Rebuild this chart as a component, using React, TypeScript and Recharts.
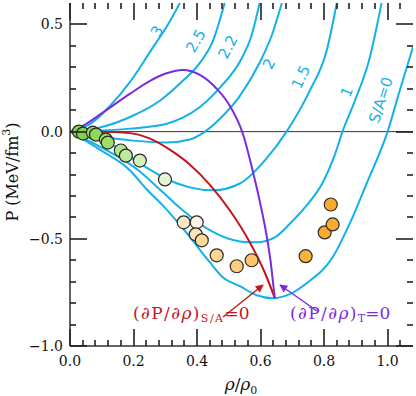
import { ComposedChart, Line, Scatter, XAxis, YAxis, ReferenceLine, Cell } from 'recharts';

// axes
const rhoMajor = [0, 0.2, 0.4, 0.6, 0.8, 1.0];
const rhoTicks = [0, 0.04, 0.08, 0.12, 0.16, 0.2, 0.24, 0.28, 0.32, 0.36, 0.4, 0.44, 0.48, 0.52, 0.56, 0.6,
  0.64, 0.68, 0.72, 0.76, 0.8, 0.84, 0.88, 0.92, 0.96, 1.0, 1.04];
const pMajor = [-1, -0.5, 0, 0.5];
const pTicks = [-1, -0.9, -0.8, -0.7, -0.6, -0.5, -0.4, -0.3, -0.2, -0.1, 0, 0.1, 0.2, 0.3, 0.4, 0.5];

const X_DOMAIN = [0, 1.08];
const Y_DOMAIN = [-1, 0.6];

// isentropes, [rho/rho0, P]
const sA3 = [[0, 0], [0.031, 0.014], [0.063, 0.035], [0.126, 0.12], [0.189, 0.232], [0.252, 0.372], [0.315, 0.516], [0.346, 0.6]];
const sA25 = [[0, 0], [0.094, 0.019], [0.198, 0.074], [0.283, 0.144], [0.355, 0.237], [0.409, 0.321], [0.45, 0.423], [0.487, 0.6]];
const sA22 = [[0, 0], [0.189, 0.014], [0.305, 0.037], [0.355, 0.065], [0.409, 0.115], [0.472, 0.205], [0.54, 0.34],
  [0.57, 0.44], [0.597, 0.6]];
const sA2 = [[0, 0], [0.094, -0.023], [0.198, -0.042], [0.305, -0.051], [0.377, -0.037], [0.425, 0], [0.472, 0.06],
  [0.535, 0.167], [0.597, 0.321], [0.638, 0.46], [0.667, 0.6]];
const sA15 = [[0, 0], [0.126, -0.056], [0.23, -0.158], [0.314, -0.228], [0.377, -0.26], [0.45, -0.274], [0.535, -0.242],
  [0.613, -0.135], [0.682, 0], [0.755, 0.191], [0.808, 0.377], [0.84, 0.6]];
const sA1 = [[0, 0], [0.094, -0.07], [0.22, -0.186], [0.283, -0.27], [0.355, -0.367], [0.44, -0.46], [0.535, -0.512],
  [0.588, -0.516], [0.645, -0.493], [0.692, -0.43], [0.745, -0.344], [0.796, -0.237], [0.833, -0.112], [0.858, 0],
  [0.896, 0.14], [0.943, 0.34], [0.981, 0.6]];
const sA0 = [[0, 0], [0.094, -0.084], [0.189, -0.181], [0.242, -0.27], [0.292, -0.344], [0.368, -0.474], [0.44, -0.609],
  [0.481, -0.679], [0.535, -0.721], [0.588, -0.763], [0.638, -0.777], [0.692, -0.758], [0.745, -0.707], [0.827, -0.586],
  [0.881, -0.428], [0.934, -0.242], [1.0, 0], [1.038, 0.191], [1.08, 0.395]];

// spinodals
const spinT = [[0, 0], [0.047, 0.033], [0.094, 0.079], [0.189, 0.177], [0.252, 0.237], [0.299, 0.27], [0.355, 0.288],
  [0.409, 0.265], [0.462, 0.2], [0.503, 0.121], [0.544, -0.009], [0.575, -0.181], [0.597, -0.321], [0.619, -0.484],
  [0.632, -0.609], [0.642, -0.74], [0.645, -0.777]];
const spinS = [[0, 0], [0.094, 0], [0.189, -0.007], [0.252, -0.033], [0.314, -0.084], [0.377, -0.153], [0.44, -0.247],
  [0.503, -0.367], [0.566, -0.516], [0.613, -0.656], [0.645, -0.777]];

// data points
const ptRho = [0.028, 0.041, 0.072, 0.082, 0.113, 0.119, 0.16, 0.176, 0.22, 0.299, 0.358, 0.399, 0.396, 0.415,
  0.462, 0.525, 0.572, 0.742, 0.802, 0.827, 0.821];
const ptP = [0, -0.009, -0.005, -0.014, -0.037, -0.051, -0.088, -0.112, -0.135, -0.223, -0.423, -0.423, -0.479, -0.507,
  -0.577, -0.628, -0.6, -0.581, -0.47, -0.433, -0.34];
const ptFill = ['#7ed348', '#7ed348', '#8ed85a', '#8ed85a', '#9edf6a', '#9edf6a', '#b4e690', '#bfea9c', '#d2f0b8',
  '#e4f5d5', '#fbe6c8', '#fff4e6', '#fde4b8', '#fcd89a', '#fdd693', '#fccf80', '#fcc56a', '#f9b23a', '#f8ab2e',
  '#f8ab2e', '#f8ab2e'];

const BLUE = '#14b1e8';
const PURPLE = '#7a2be2';
const RED = '#c4141c';
const FRAME = '#333333';
const SERIF = '"DejaVu Serif", serif';
const SANS = '"DejaVu Sans", sans-serif';

// plot box in the 416x396 picture
const W = 416, H = 396;
const PL = 70, PR = 413, PT = 3, PB = 346;

const toRows = (arr: number[][]) => arr.map(([r, p]) => ({ r, p }));
const points = ptRho.map((r, i) => ({ r, p: ptP[i] }));

const isentropes = [sA3, sA25, sA22, sA2, sA15, sA1, sA0];

const BottomTick = ({ x, y, payload }: any) =>
  rhoMajor.includes(payload.value) ? (
    <text x={x} y={y + 20} textAnchor="middle" fontSize={14} fontFamily={SERIF} fill="#111">
      {payload.value.toFixed(1)}
    </text>
  ) : (
    <g />
  );

const LeftTick = ({ x, y, payload }: any) => {
  const v = payload.value;
  if (!pMajor.includes(v)) return <g />;
  const label = (v < 0 ? '\u2212' : '') + Math.abs(v).toFixed(1);
  return (
    <text x={x - 7} y={y + 5} textAnchor="end" fontSize={14} fontFamily={SERIF} fill="#111">
      {label}
    </text>
  );
};

const Dot = (props: any) => (
  <circle cx={props.cx} cy={props.cy} r={6.5} fill={props.fill} stroke="#2a2a2a" strokeWidth={1.2} />
);

const curveLabels = [
  { t: '3', x: 157, y: 31, a: -60 },
  { t: '2.5', x: 196, y: 41, a: -60 },
  { t: '2.2', x: 228, y: 47, a: -62 },
  { t: '2', x: 269, y: 64, a: -62 },
  { t: '1.5', x: 301, y: 77, a: -65 },
  { t: '1', x: 347, y: 92, a: -68 },
  { t: 'S/A=0', x: 381, y: 100, a: -72 },
];

// inward tick marks on all four sides, drawn as thin filled rects
function TickRects() {
  const sx = (v: number) => PL + ((v - X_DOMAIN[0]) / (X_DOMAIN[1] - X_DOMAIN[0])) * (PR - PL);
  const sy = (v: number) => PT + ((Y_DOMAIN[1] - v) / (Y_DOMAIN[1] - Y_DOMAIN[0])) * (PB - PT);
  const out: any[] = [];
  rhoTicks.forEach((v, i) => {
    const len = rhoMajor.includes(v) ? 17 : 6;
    const x = Math.round(sx(v)) - 0.8;
    out.push(<rect key={`b${i}`} x={x} y={PB - len} width={1.6} height={len} />);
    out.push(<rect key={`t${i}`} x={x} y={PT} width={1.6} height={len} />);
  });
  pTicks.forEach((v, i) => {
    const len = pMajor.includes(v) ? 17 : 6;
    const y = Math.round(sy(v)) - 0.8;
    out.push(<rect key={`l${i}`} x={PL} y={y} width={len} height={1.6} />);
    out.push(<rect key={`r${i}`} x={PR - len} y={y} width={len} height={1.6} />);
  });
  return <g fill="#222">{out}</g>;
}

export default function App() {
  return (
    <div style={{ position: 'absolute', left: 0, top: 0, width: W, height: H, background: '#fff' }}>
      <ComposedChart width={W} height={H} margin={{ top: PT, right: W - PR, left: 0, bottom: 0 }}>
        <XAxis
          dataKey="r" type="number" domain={X_DOMAIN} allowDataOverflow ticks={rhoTicks} interval={0}
          height={H - PB} tickSize={0} tickMargin={0} tickLine={false} tick={<BottomTick />}
          axisLine={{ stroke: FRAME, strokeWidth: 1.5 }}
        />
        <XAxis
          xAxisId="top" orientation="top" type="number" domain={X_DOMAIN} allowDataOverflow
          height={0} tick={false} tickLine={false} axisLine={{ stroke: FRAME, strokeWidth: 1.5 }}
        />
        <YAxis
          type="number" domain={Y_DOMAIN} allowDataOverflow ticks={pTicks} interval={0} width={PL}
          tickSize={0} tickMargin={0} tickLine={false} tick={<LeftTick />}
          axisLine={{ stroke: FRAME, strokeWidth: 1.5 }}
        />
        <YAxis
          yAxisId="right" orientation="right" type="number" domain={Y_DOMAIN} allowDataOverflow
          width={0} tick={false} tickLine={false} axisLine={{ stroke: FRAME, strokeWidth: 1.5 }}
        />
        <ReferenceLine y={0} stroke={FRAME} strokeWidth={1} />
        {isentropes.map((s, i) => (
          <Line
            key={i} data={toRows(s)} dataKey="p" type="monotone" stroke={BLUE} strokeWidth={2}
            dot={false} isAnimationActive={false}
          />
        ))}
        <Line data={toRows(spinS)} dataKey="p" type="monotone" stroke={RED} strokeWidth={2} dot={false} isAnimationActive={false} />
        <Line data={toRows(spinT)} dataKey="p" type="monotone" stroke={PURPLE} strokeWidth={2} dot={false} isAnimationActive={false} />
        <Scatter data={points} dataKey="p" shape={<Dot />} isAnimationActive={false}>
          {points.map((_, i) => (
            <Cell key={i} fill={ptFill[i]} />
          ))}
        </Scatter>
      </ComposedChart>
      <svg width={W} height={H} style={{ position: 'absolute', left: 0, top: 0, pointerEvents: 'none' }}>
        <defs>
          <marker id="ahRed" viewBox="0 0 10 10" refX="9" refY="5" markerWidth="11" markerHeight="8" orient="auto" markerUnits="userSpaceOnUse">
            <path d="M0,0 L10,5 L0,10 z" fill={RED} />
          </marker>
          <marker id="ahPur" viewBox="0 0 10 10" refX="9" refY="5" markerWidth="11" markerHeight="8" orient="auto" markerUnits="userSpaceOnUse">
            <path d="M0,0 L10,5 L0,10 z" fill={PURPLE} />
          </marker>
        </defs>
        <TickRects />
        {curveLabels.map((c) => (
          <text
            key={c.t} x={c.x} y={c.y} transform={`rotate(${c.a} ${c.x} ${c.y})`} textAnchor="middle"
            dominantBaseline="central" fontSize={15} fontFamily={SANS} fill={BLUE}
          >
            {c.t}
          </text>
        ))}
        <line x1={223} y1={317} x2={263} y2={285} stroke={RED} strokeWidth={1.5} markerEnd="url(#ahRed)" />
        <line x1={317} y1={311} x2={280} y2={285} stroke={PURPLE} strokeWidth={1.5} markerEnd="url(#ahPur)" />
        <text x={133} y={319} fontSize={17} fontFamily={SERIF} fill={RED}>
          <tspan letterSpacing={1.4}>(∂P/∂<tspan fontStyle="italic">ρ</tspan>)</tspan>
          <tspan fontSize={11} dy={3} letterSpacing={1.5}>S/A</tspan>
          <tspan dy={-3}>=0</tspan>
        </text>
        <text x={290} y={319} fontSize={17} fontFamily={SERIF} fill={PURPLE}>
          <tspan letterSpacing={1.4}>(∂P/∂<tspan fontStyle="italic">ρ</tspan>)</tspan>
          <tspan fontSize={11} dy={3}>T</tspan>
          <tspan dy={-3}>=0</tspan>
        </text>
        <text
          x={12} y={172} transform="rotate(-90 12 172)" textAnchor="middle" dominantBaseline="central"
          fontSize={16} fontFamily={SERIF} fill="#111"
        >
          P  (MeV/fm<tspan fontSize={11} dy={-6}>3</tspan><tspan dy={6}>)</tspan>
        </text>
        <text x={241} y={390} textAnchor="middle" fontSize={17} fontFamily={SERIF} fill="#111">
          <tspan fontStyle="italic">ρ</tspan>/<tspan fontStyle="italic">ρ</tspan>
          <tspan fontSize={11} dy={4}>0</tspan>
        </text>
      </svg>
    </div>
  );
}
